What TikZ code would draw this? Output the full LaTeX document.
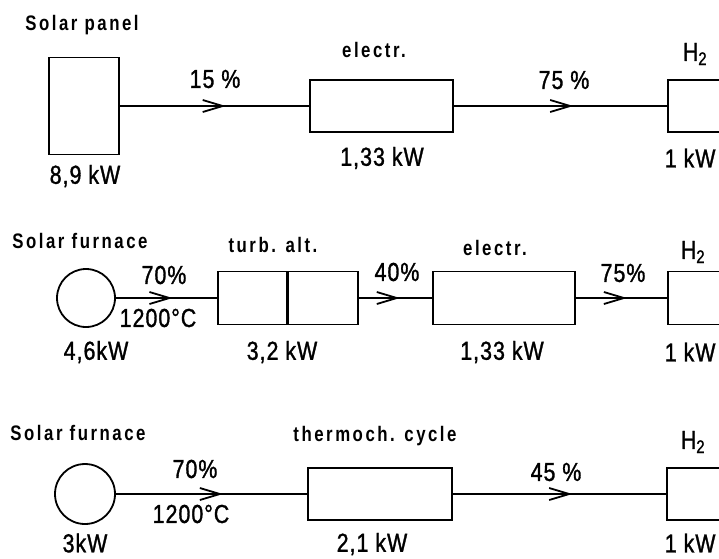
\documentclass[tikz,border=0pt]{standalone}
\usepackage{fontspec}
\setmainfont{Liberation Sans}
\newfontfamily\headfont{Liberation Sans Bold}[LetterSpace=12, FakeStretch=0.8]
\newfontfamily\valfont{Liberation Sans}[LetterSpace=4, FakeStretch=0.82, FakeBold=1.2]
\usetikzlibrary{arrows.meta,decorations.markings}

\tikzset{
  unit/.style={draw, line width=1.8pt, inner sep=0pt},
  furnace/.style={draw, circle, line width=1.8pt, minimum size=58pt, inner sep=0pt},
  flow/.style={line width=1.8pt,
    decoration={markings, mark=at position 0.56 with {\arrow{Straight Barb[length=20pt,width=12pt]}}},
    postaction={decorate}},
  head/.style={font=\headfont\fontsize{21}{24}\selectfont},
  val/.style={font=\valfont\fontsize{26}{29}\selectfont},
}

\begin{document}
\begin{tikzpicture}[x=1pt, y=-1pt]

  \useasboundingbox (0,0) rectangle (719,558);

  % Row 1: solar panel -> electrolysis -> H2
  \node[unit, minimum width=70pt, minimum height=97pt] (panel) at (84,106) {};
  \node[unit, minimum width=143pt, minimum height=52pt] (elA) at (381.5,106) {};
  \node[unit, minimum width=100pt, minimum height=52pt] (hA) at (718,106) {};

  \draw[flow] (panel) -- (elA);
  \draw[flow] (elA) -- (hA);

  \node[head] (panelname) at (82,25) {Solar panel};
  \node[val]  (panelkw)   at (85,176) {8,9 kW};
  \node[val]  (effA)      at (215,79) {15 \%};
  \node[head] (elAname)   at (374,50) {electr.};
  \node[val]  (elAkw)     at (382,158) {1,33 kW};
  \node[val]  (effB)      at (564,80) {75 \%};
  \node[val]  (hAname)    at (695,54) {H\textsubscript{2}};
  \node[val, anchor=east] (hAkw) at (719,158) {1 kW};

  % Row 2: solar furnace -> turbine/alternator -> electrolysis -> H2
  \node[furnace] (furnB) at (86,298) {};
  \node[unit, minimum width=68.5pt, minimum height=53pt] (turb) at (252.25,298) {};
  \node[unit, minimum width=70pt, minimum height=53pt] (alt) at (323,298) {};
  \node[unit, minimum width=142pt, minimum height=53pt] (elB) at (504,298) {};
  \node[unit, minimum width=100pt, minimum height=53pt] (hB) at (718,298) {};

  \draw[flow] (furnB) -- (turb);
  \draw[flow] (alt) -- (elB);
  \draw[flow] (elB) -- (hB);

  \node[head] (furnBname) at (80,241) {Solar furnace};
  \node[val]  (effC)      at (164,275) {70\%};
  \node[val]  (tempB)     at (158,318) {1200°C};
  \node[val]  (furnBkw)   at (96,352) {4,6kW};
  \node[head] (turbname)  at (273,245) {turb. alt.};
  \node[val]  (turbkw)    at (282,352) {3,2 kW};
  \node[val]  (effD)      at (397,272) {40\%};
  \node[head] (elBname)   at (495,248) {electr.};
  \node[val]  (elBkw)     at (502,352) {1,33 kW};
  \node[val]  (effE)      at (623,273) {75\%};
  \node[val]  (hBname)    at (693,252) {H\textsubscript{2}};
  \node[val, anchor=east] (hBkw) at (719,352) {1 kW};

  % Row 3: solar furnace -> thermochemical cycle -> H2
  \node[furnace, minimum size=60pt] (furnC) at (85,494) {};
  \node[unit, minimum width=144pt, minimum height=52pt] (thermo) at (380,494) {};
  \node[unit, minimum width=100pt, minimum height=52pt] (hC) at (717,494) {};

  \draw[flow] (furnC) -- (thermo);
  \draw[flow] (thermo) -- (hC);

  \node[head] (furnCname) at (78,433) {Solar furnace};
  \node[val]  (effF)      at (195,469) {70\%};
  \node[val]  (tempC)     at (191,514) {1200°C};
  \node[val]  (furnCkw)   at (85,543) {3kW};
  \node[head] (thermoname) at (375,436) {thermoch. cycle};
  \node[val]  (thermokw)  at (372,544) {2,1 kW};
  \node[val]  (effG)      at (556,472) {45 \%};
  \node[val]  (hCname)    at (693,442) {H\textsubscript{2}};
  \node[val, anchor=east] (hCkw) at (719,543) {1 kW};

\end{tikzpicture}
\end{document}
